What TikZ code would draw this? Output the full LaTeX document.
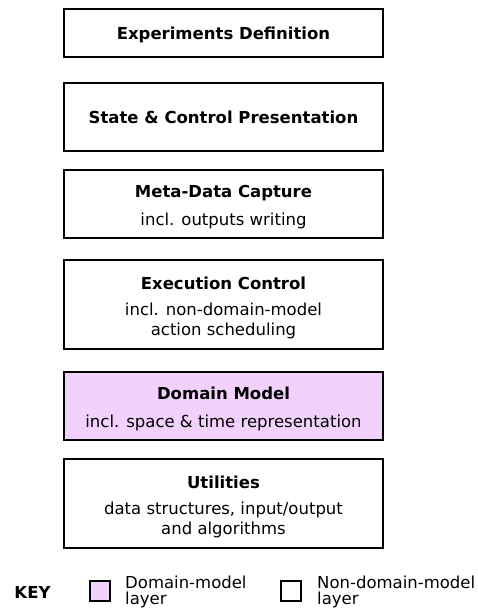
\documentclass[tikz,border=0pt]{standalone}
\usepackage{fontspec}
\setmainfont{DejaVu Sans}
\definecolor{domainpink}{RGB}{242,210,252}
\tikzset{
  layer/.style={draw, line width=2pt, minimum width=319pt, align=center,
    font=\fontsize{16.5}{20}\selectfont, inner sep=0pt},
  layertext/.style={align=center, font=\fontsize{16.5}{20}\selectfont, inner sep=0pt, yshift=-3pt},
  keybox/.style={draw, line width=2pt, minimum width=20pt, minimum height=20pt, inner sep=0pt},
  keytext/.style={anchor=west, align=left, font=\fontsize{16.5}{16}\selectfont, inner sep=0pt}
}
\begin{document}
\begin{tikzpicture}[x=1pt,y=-1pt]
    \useasboundingbox (0,0) rectangle (477,610);

    \node[layer, minimum height=48pt, text depth=0pt] (expdef) at (223.5,33) {\textbf{Experiments Definition}};
    \node[layer, minimum height=68pt, text depth=0pt] (statectl) at (223.5,117) {\textbf{State \& Control Presentation}};
    \node[layer, minimum height=68pt, label={[layertext]center:{\textbf{Meta-Data Capture}\\[8pt]incl. outputs writing}}] (metadata) at (223.5,204) {};
    \node[layer, minimum height=89pt, label={[layertext]center:{\textbf{Execution Control}\\[6pt]incl. non-domain-model\\action scheduling}}] (execctl) at (223.5,304.5) {};
    \node[layer, minimum height=68pt, fill=domainpink, label={[layertext]center:{\textbf{Domain Model}\\[8pt]incl. space \& time representation}}] (domain) at (223.5,406) {};
    \node[layer, minimum height=89pt, label={[layertext]center:{\textbf{Utilities}\\[6pt]data structures, input/output\\and algorithms}}] (utils) at (223.5,503.5) {};

    % key
    \node[font=\fontsize{16.5}{16}\selectfont\bfseries] (key) at (32.5,592) {KEY};
    \node[keybox, fill=domainpink] (keydomain) at (99.5,591) {};
    \node[keytext] (keydomaintext) at (125,592) {Domain-model\\layer};
    \node[keybox] (keyother) at (290.5,591) {};
    \node[keytext] (keyothertext) at (317,592) {Non-domain-model\\layer};
\end{tikzpicture}
\end{document}
